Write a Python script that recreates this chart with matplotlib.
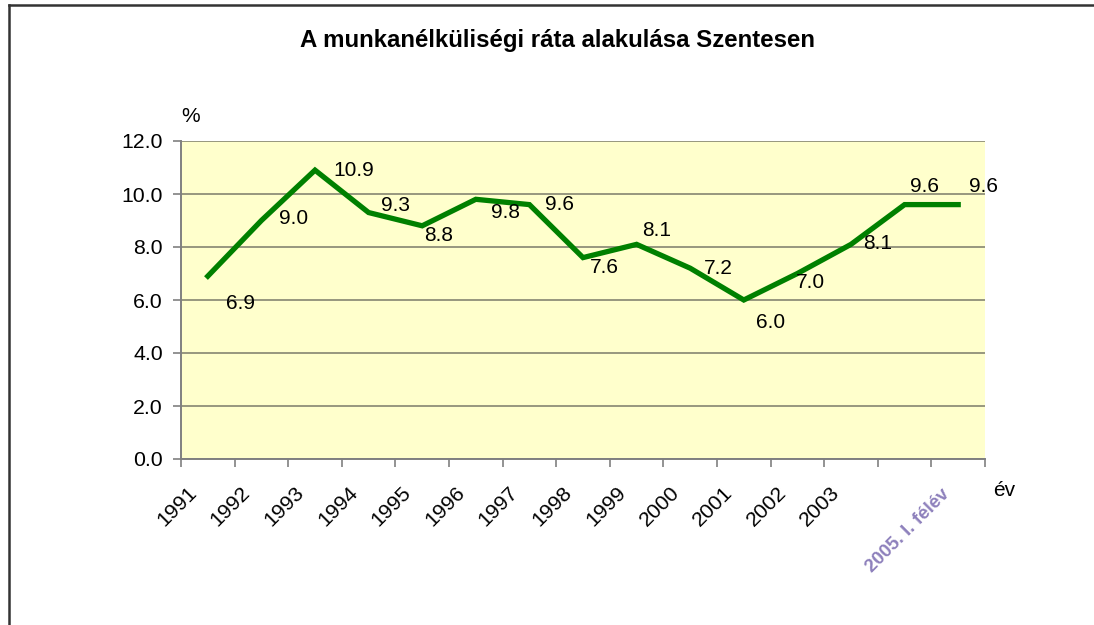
import matplotlib
matplotlib.use("Agg")
import matplotlib.pyplot as plt

plt.rcParams['font.family'] = ['Liberation Sans', 'DejaVu Sans']

categories = ['1991', '1992', '1993', '1994', '1995', '1996', '1997', '1998',
              '1999', '2000', '2001', '2002', '2003', '', '2005. I. félév']
values = [6.9, 9.0, 10.9, 9.3, 8.8, 9.8, 9.6, 7.6, 8.1, 7.2, 6.0, 7.0, 8.1, 9.6, 9.6]
y_ticks = [0.0, 2.0, 4.0, 6.0, 8.0, 10.0, 12.0]
title = 'A munkanélküliségi ráta alakulása Szentesen'

# label offsets in pixels (dx, dy up)
label_offsets = [(33, -27), (32, 2), (39, 0), (27, 7), (16, -10), (30, -13), (30, 0),
                 (21, -10), (20, 14), (28, 0), (27, -23), (13, -9), (27, 1), (20, 18), (25, 18)]

W, H = 1094, 625
fig = plt.figure(figsize=(W / 100, H / 100), dpi=100)
fig.patch.set_facecolor('white')

# outer frame (left and top visible)
fig.add_artist(plt.Line2D([8.5 / W, 8.5 / W], [0, 1 - 5 / H], transform=fig.transFigure,
                          color='#333333', lw=1.8))
fig.add_artist(plt.Line2D([8.5 / W, 1], [1 - 5 / H, 1 - 5 / H], transform=fig.transFigure,
                          color='#333333', lw=1.8))

left, right, top, bottom = 181, 985, 141, 459
ax = fig.add_axes([left / W, 1 - bottom / H, (right - left) / W, (bottom - top) / H])
ax.set_facecolor('#FFFFCC')

x = list(range(len(values)))
ax.plot(x, values, color='#008000', lw=3.8, solid_joinstyle='miter', zorder=3)

for xi, v, (dx, dy) in zip(x, values, label_offsets):
    ax.annotate(f'{v:.1f}', xy=(xi, v), xytext=(dx, dy), textcoords='offset pixels',
                ha='center', va='center', fontsize=15, color='black', zorder=4)

ax.set_xlim(-0.5, len(values) - 0.5)
ax.set_ylim(0, 12)
ax.set_yticks(y_ticks)
ax.set_yticklabels([f'{t:.1f}' for t in y_ticks], fontsize=15.3)
ax.yaxis.grid(True, color='#7a7a6a', lw=1.1)
ax.set_axisbelow(True)

ax.set_xticks([i - 0.5 for i in range(len(values) + 1)])
ax.set_xticklabels([])
ax.tick_params(axis='x', length=6, width=1.2, color='#808080', direction='out')
ax.tick_params(axis='y', length=6, width=1.2, color='#808080', direction='out', pad=7)

for s in ['top', 'right']:
    ax.spines[s].set_visible(False)
for s in ['left', 'bottom']:
    ax.spines[s].set_color('#808080')
    ax.spines[s].set_linewidth(1.4)

for xi, lab in zip(x, categories):
    if not lab:
        continue
    if lab.startswith('2005'):
        ax.annotate(lab, xy=(xi, 0), xycoords=('data', 'axes fraction'), xytext=(-11, -33),
                    textcoords='offset pixels', rotation=45, rotation_mode='anchor',
                    ha='right', va='center', fontsize=13.5, fontweight='bold',
                    color='#7a6ab0', alpha=0.85)
    else:
        ax.annotate(lab, xy=(xi, 0), xycoords=('data', 'axes fraction'), xytext=(-14, -31),
                    textcoords='offset pixels', rotation=45, rotation_mode='anchor',
                    ha='right', va='center', fontsize=15.3, color='black')

fig.text(557 / W, 1 - 40 / H, title, ha='center', va='center', fontsize=17.3,
         fontweight='bold')
fig.text(191 / W, 1 - 117 / H, '%', ha='center', va='center', fontsize=15)
fig.text(1004 / W, 1 - 490 / H, 'év', ha='center', va='center', fontsize=15)

fig.savefig('out.png', dpi=100, facecolor='white')
